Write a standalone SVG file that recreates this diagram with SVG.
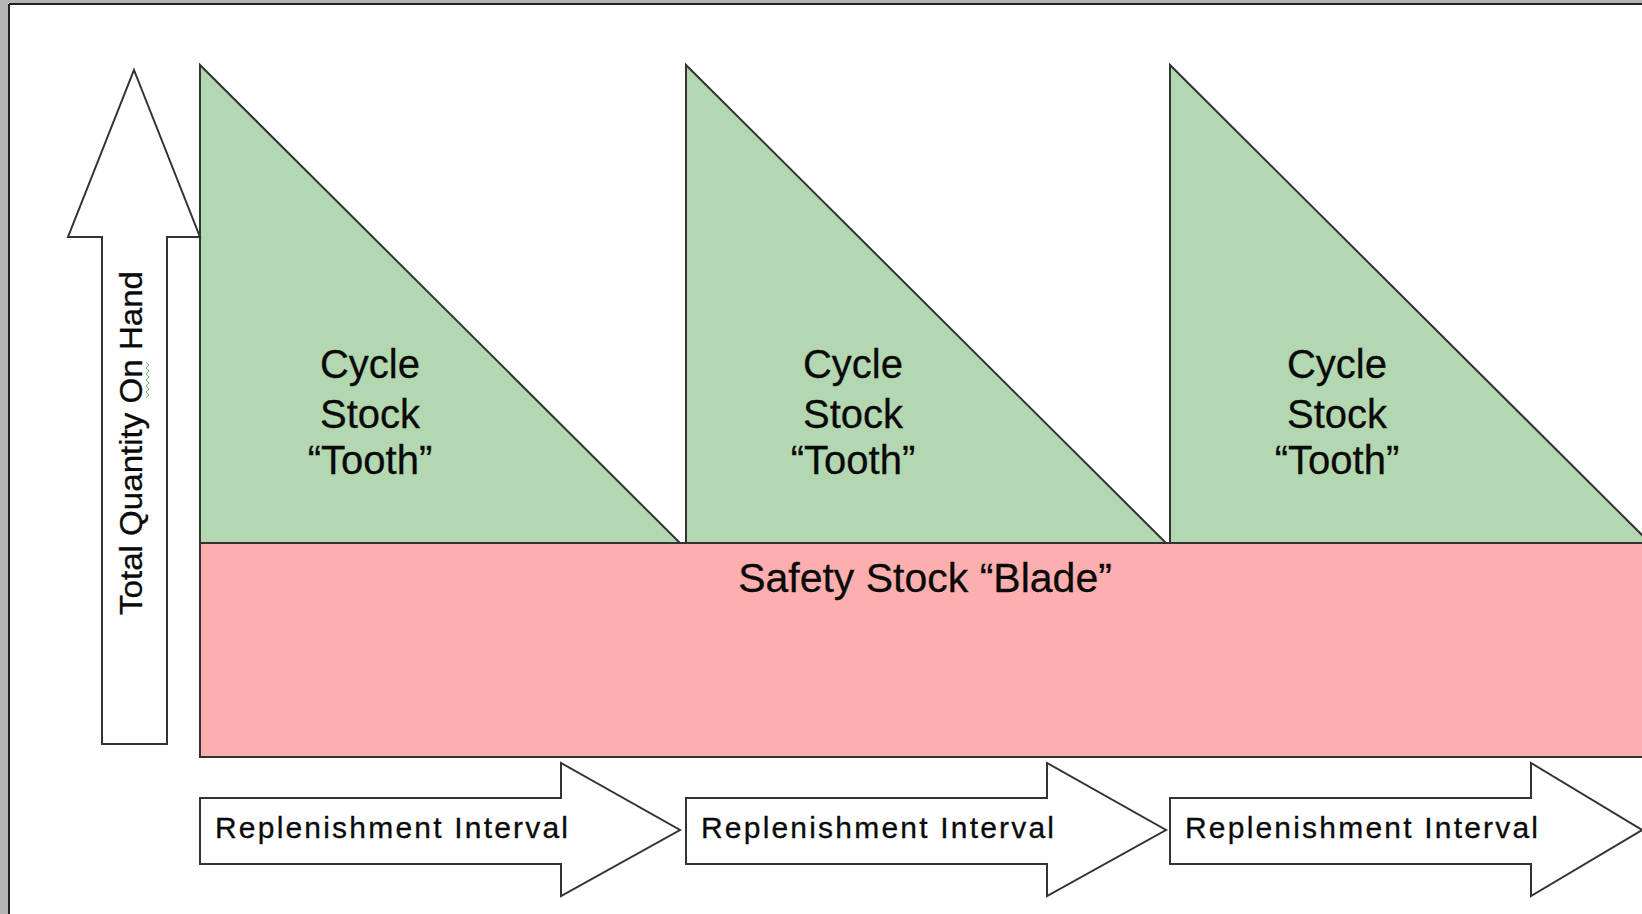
<svg xmlns="http://www.w3.org/2000/svg" width="1642" height="914" viewBox="0 0 1642 914">
<style>
.shape{stroke:#333;stroke-width:2;stroke-linejoin:miter}
.tooth{fill:#b3d7b0}
.blade{fill:#fdaeae}
.arrow{fill:#fff}
.lbl{font-family:"Liberation Sans",Arial,sans-serif;fill:#0a0a0a;stroke:#0a0a0a;stroke-width:0.3}
.big{font-size:40px;text-anchor:middle}
.small{font-size:30px}
</style>
<rect x="0" y="0" width="1642" height="914" fill="#fff"/>
<rect x="0" y="0" width="8" height="914" fill="#b4b4b4"/>
<rect x="0" y="0" width="1642" height="3" fill="#b4b4b4"/>
<line x1="9" y1="4" x2="9" y2="914" stroke="#222" stroke-width="2"/>
<line x1="9" y1="4" x2="1642" y2="4" stroke="#222" stroke-width="2"/>

<g id="safety-blade">
<rect class="shape blade" x="200" y="543" width="1460" height="214"/>
<text class="lbl" x="925" y="592" font-size="41" text-anchor="middle">Safety Stock “Blade”</text>
</g>

<g id="tooth-1">
<polygon class="shape tooth" points="200,65 200,543 680,543"/>
<text class="lbl big" x="370" y="378">Cycle</text>
<text class="lbl big" x="370" y="428">Stock</text>
<text class="lbl big" x="370" y="474">“Tooth”</text>
</g>
<g id="tooth-2">
<polygon class="shape tooth" points="686,65 686,543 1166,543"/>
<text class="lbl big" x="853" y="378">Cycle</text>
<text class="lbl big" x="853" y="428">Stock</text>
<text class="lbl big" x="853" y="474">“Tooth”</text>
</g>
<g id="tooth-3">
<polygon class="shape tooth" points="1170,65 1170,543 1650,543"/>
<text class="lbl big" x="1337" y="378">Cycle</text>
<text class="lbl big" x="1337" y="428">Stock</text>
<text class="lbl big" x="1337" y="474">“Tooth”</text>
</g>

<g id="axis-arrow">
<polygon class="shape arrow" points="134,70 200,237 167,237 167,744 102,744 102,237 68,237"/>
<text class="lbl" transform="translate(142,443) rotate(-90)" font-size="32" text-anchor="middle" textLength="344" lengthAdjust="spacingAndGlyphs">Total Quantity On Hand</text>
<path d="M146,362 l3,3 l-3,3 l3,3 l-3,3 l3,3 l-3,3 l3,3 l-3,3 l3,3 l-3,3 l3,3 l-3,3" fill="none" stroke="#5cb85c" stroke-width="1"/>
</g>

<g id="connectors">
<g id="interval-1">
<polygon class="shape arrow" points="200,798 561,798 561,763 680,830 561,896 561,864 200,864"/>
<text class="lbl small" x="215" y="838" textLength="353" lengthAdjust="spacing">Replenishment Interval</text>
</g>
<g id="interval-2">
<polygon class="shape arrow" points="686,798 1047,798 1047,763 1166,830 1047,896 1047,864 686,864"/>
<text class="lbl small" x="701" y="838" textLength="353" lengthAdjust="spacing">Replenishment Interval</text>
</g>
<g id="interval-3">
<polygon class="shape arrow" points="1170,798 1531,798 1531,763 1642,830 1531,896 1531,864 1170,864"/>
<text class="lbl small" x="1185" y="838" textLength="353" lengthAdjust="spacing">Replenishment Interval</text>
</g>
</g>
</svg>
